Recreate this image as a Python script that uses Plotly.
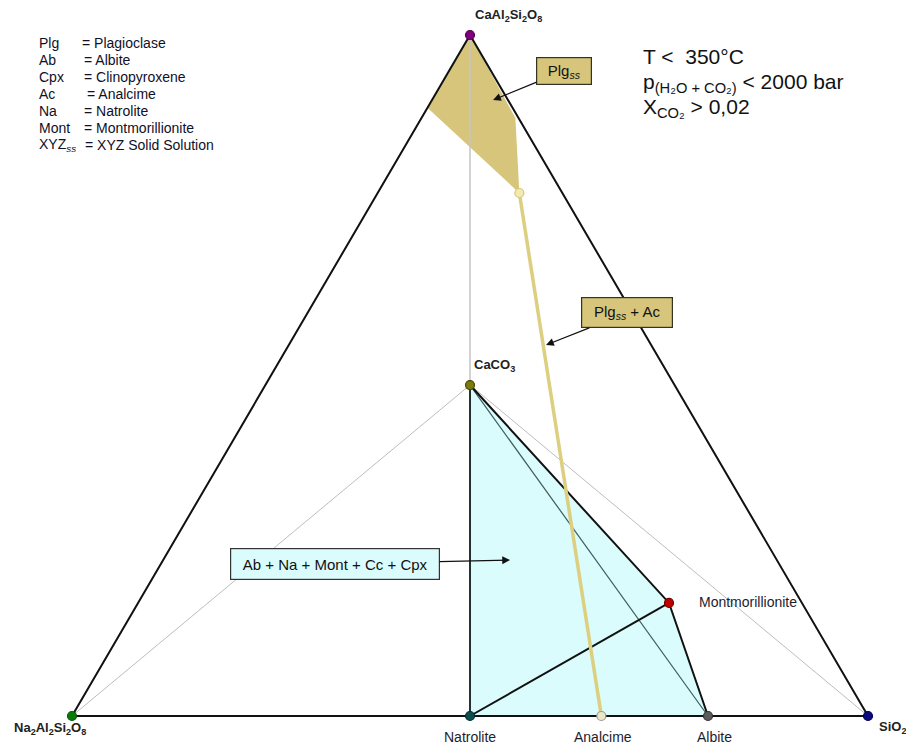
import plotly.graph_objects as go

# ---------------- data (ternary fractions: a = CaAl2Si2O8, c = SiO2, b = Na2Al2Si2O8) ----------------
vertex_labels = ["Na<sub>2</sub>Al<sub>2</sub>Si<sub>2</sub>O<sub>8</sub>", "SiO<sub>2</sub>",
                 "CaAl<sub>2</sub>Si<sub>2</sub>O<sub>8</sub>"]
vertex_a = [0.0, 0.0, 1.0]
vertex_c = [0.0, 1.0, 0.0]
vertex_colors = ["#0a7a0a", "#0a0a80", "#800080"]

phase_names = ["CaCO<sub>3</sub>", "Natrolite", "Analcime", "Albite", "Montmorillionite", "Plg_ss"]
phase_a = [0.486, 0.0, 0.0, 0.0, 0.166, 0.768]
phase_c = [0.257, 0.500, 0.665, 0.799, 0.667, 0.178]

# Plg solid-solution field
plg_field_a = [1.0, 0.893, 0.768, 0.878]
plg_field_c = [0.0, 0.0, 0.178, 0.118]

legend_abbr = ["Plg", "Ab", "Cpx", "Ac", "Na", "Mont", "XYZ<sub><i>ss</i></sub>"]
legend_text = ["= Plagioclase", "= Albite", "= Clinopyroxene", "= Analcime", "= Natrolite",
               "= Montmorillionite", "= XYZ Solid Solution"]

conditions = ["T &lt;  350°C",
              "p<sub>(H₂O + CO₂)</sub> &lt; 2000 bar",
              "X<sub>CO₂</sub> &gt; 0,02"]


def xy(a, c):
    return c + a / 2.0, a


def pts(a_list, c_list):
    xs, ys = [], []
    for a, c in zip(a_list, c_list):
        x, y = xy(a, c)
        xs.append(x)
        ys.append(y)
    return xs, ys


P = {n: xy(a, c) for n, a, c in zip(phase_names, phase_a, phase_c)}
V = [xy(a, c) for a, c in zip(vertex_a, vertex_c)]
CC, NAT, ANA, ALB, MONT, PLG = [P[n] for n in phase_names]
LEFT, RIGHT, TOP = V

W, H = 906, 746
fig = go.Figure()


def line(p_list, color, width, fill=None, fillcolor=None):
    fig.add_trace(go.Scatter(
        x=[p[0] for p in p_list], y=[p[1] for p in p_list], mode="lines",
        line=dict(color=color, width=width), fill=fill, fillcolor=fillcolor,
        hoverinfo="skip", showlegend=False))


# fields
fx, fy = pts(plg_field_a + [plg_field_a[0]], plg_field_c + [plg_field_c[0]])
fig.add_trace(go.Scatter(x=fx, y=fy, mode="lines", fill="toself", fillcolor="#d6c57a",
                         line=dict(width=0, color="#d6c57a"), hoverinfo="skip", showlegend=False))
line([CC, MONT, ALB, NAT, CC], "rgba(0,0,0,0)", 0, fill="toself", fillcolor="#dbfcfc")

# thin grey construction lines
line([TOP, CC], "#c4c4c4", 1.5)
line([LEFT, CC], "#bdbdbd", 1)
line([CC, RIGHT], "#bdbdbd", 1)

# triangle
line([LEFT, TOP, RIGHT], "#111111", 2)
line([LEFT, RIGHT], "#111111", 2)

# tie lines
line([CC, ALB], "#3e5a5a", 1.2)
line([NAT, CC], "#223333", 2)
line([CC, MONT, ALB], "#111111", 2)
line([NAT, MONT], "#111111", 2)
line([PLG, ANA], "#ddcf80", 3.5)

# markers
mx = [p[0] for p in V] + [P[n][0] for n in phase_names]
my = [p[1] for p in V] + [P[n][1] for n in phase_names]
mcol = vertex_colors + ["#7a7a10", "#0b4f4f", "#ece6c8", "#5c5c5c", "#c00000", "#f3eab0"]
mline = ["#0a5a0a", "#000050", "#500050", "#4a4a00", "#003030", "#999999", "#333333", "#700000", "#d6c57a"]
fig.add_trace(go.Scatter(x=mx, y=my, mode="markers",
                         marker=dict(size=9, color=mcol, line=dict(color=mline, width=1.2)),
                         hoverinfo="skip", showlegend=False))

ann = []
lab_font_b = dict(family="Liberation Sans, Arial", size=13, color="#222222")

# vertex labels (bold)
ann.append(dict(x=TOP[0], y=TOP[1], text="<b>" + vertex_labels[2] + "</b>", showarrow=False,
                xshift=38, yshift=20, font=lab_font_b))
ann.append(dict(x=LEFT[0], y=LEFT[1], text="<b>" + vertex_labels[0] + "</b>", showarrow=False,
                xshift=-22, yshift=-12, font=lab_font_b))
ann.append(dict(x=RIGHT[0], y=RIGHT[1], text="<b>" + vertex_labels[1] + "</b>", showarrow=False,
                xanchor="left", xshift=9, yshift=-11, font=lab_font_b))
ann.append(dict(x=CC[0], y=CC[1], text="<b>" + phase_names[0] + "</b>", showarrow=False,
                xshift=24, yshift=20, font=lab_font_b))

lab_font = dict(family="Liberation Sans, Arial", size=14, color="#1c1c30")
ann.append(dict(x=NAT[0], y=NAT[1], text=phase_names[1], showarrow=False, yshift=-21, font=lab_font))
ann.append(dict(x=ANA[0], y=ANA[1], text=phase_names[2], showarrow=False, xshift=2, yshift=-21, font=lab_font))
ann.append(dict(x=ALB[0], y=ALB[1], text=phase_names[3], showarrow=False, xshift=6, yshift=-21, font=lab_font))
ann.append(dict(x=MONT[0], y=MONT[1], text=phase_names[4], showarrow=False, xanchor="left",
                xshift=28, yshift=1, font=lab_font))

# arrow boxes
box_font = dict(family="Liberation Sans, Arial", size=15, color="#111111")
ann.append(dict(x=0.529, y=0.9046, ax=71, ay=-29, text="Plg<sub><i>ss</i></sub>", showarrow=True,
                arrowhead=2, arrowsize=1.3, arrowwidth=1.2, arrowcolor="#111111",
                width=50, height=22, align="center",
                bgcolor="#d6c57a", bordercolor="#333322", borderwidth=1.2, borderpad=2, font=box_font))
ann.append(dict(x=0.5955, y=0.5448, ax=81, ay=-32, text="Plg<sub><i>ss</i></sub> + Ac", showarrow=True,
                arrowhead=2, arrowsize=1.3, arrowwidth=1.2, arrowcolor="#111111",
                width=86, height=25, align="center",
                bgcolor="#d6c57a", bordercolor="#333322", borderwidth=1.2, borderpad=2, font=box_font))
ann.append(dict(x=0.5503, y=0.229, ax=-175, ay=4, text="Ab + Na + Mont + Cc + Cpx", showarrow=True,
                arrowhead=2, arrowsize=1.3, arrowwidth=1.2, arrowcolor="#111111",
                width=204, height=26, align="center",
                bgcolor="#dbfcfc", bordercolor="#333333", borderwidth=1.2, borderpad=2,
                font=dict(family="Liberation Sans, Arial", size=15, color="#111111")))

# legend block
leg_font = dict(family="Liberation Sans, Arial", size=14, color="#101028")
eq_x = [80, 82, 82, 85, 82, 82, 83]
for i, (ab, tx) in enumerate(zip(legend_abbr, legend_text)):
    py = 43 + 17 * i
    ann.append(dict(xref="paper", yref="paper", x=37 / W, y=1 - py / H, text=ab, showarrow=False,
                    xanchor="left", yanchor="middle", font=leg_font))
    ann.append(dict(xref="paper", yref="paper", x=eq_x[i] / W, y=1 - py / H, text=tx, showarrow=False,
                    xanchor="left", yanchor="middle", font=leg_font))

# conditions
cond_font = dict(family="Liberation Sans, Arial", size=21, color="#111111")
for i, tx in enumerate(conditions):
    py = 57 + 25.5 * i
    ann.append(dict(xref="paper", yref="paper", x=641 / W, y=1 - py / H, text=tx, showarrow=False,
                    xanchor="left", yanchor="middle", font=cond_font))

x0 = -72 / 796
x1 = (W - 72) / 796
y0 = -(H - 716) / 681
y1 = 1 + 35 / 681

fig.update_layout(
    width=W, height=H, autosize=False,
    margin=dict(l=0, r=0, t=0, b=0),
    paper_bgcolor="white", plot_bgcolor="white",
    xaxis=dict(range=[x0, x1], visible=False, fixedrange=True),
    yaxis=dict(range=[y0, y1], visible=False, fixedrange=True),
    annotations=ann, showlegend=False,
)

fig.write_html("out.html")
